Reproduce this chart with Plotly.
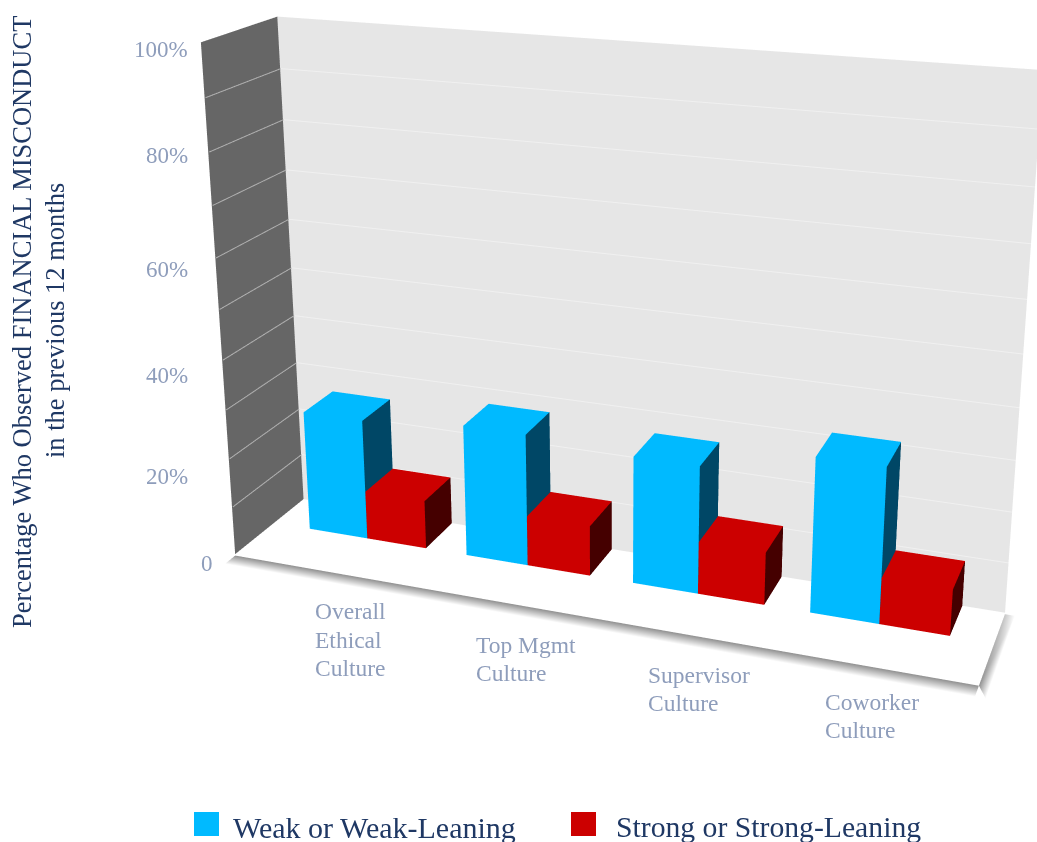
import numpy as np
import plotly.graph_objects as go

# ---- data ----
categories = [["Overall", "Ethical", "Culture"], ["Top Mgmt", "Culture"], ["Supervisor", "Culture"], ["Coworker", "Culture"]]
weak = [24.9, 26.9, 25.6, 30.6]
strong = [10.0, 10.2, 10.5, 9.1]
series_names = ["Weak or Weak-Leaning", "Strong or Strong-Leaning"]
tick_labels = ["100%", "80%", "60%", "40%", "20%", "0"]
grid_values = [10, 20, 30, 40, 50, 60, 70, 80, 90]
axis_title = ["Percentage Who Observed FINANCIAL MISCONDUCT", "in the previous 12 months"]

# ---- styling ----
BLUE, BLUE_SIDE, RED, RED_SIDE = "#00BAFF", "#004766", "#CC0000", "#450000"
TICK, TITLE = "#8E9DBB", "#1F3864"
FW, FH = 1037, 842
LIGHT = dict(ambient=1, diffuse=0, specular=0, fresnel=0, roughness=1)

# bar layout on the category axis (0..4) and the depth axis (0..1)
BAR_START, BAR_STEP, BAR_W, BAR_FRONT, BAR_BACK = 0.2242, 0.9501, 0.3550, 0.5543, 0.995
# oblique skew of the chart box, as in the pseudo-3D original
SK_XY, SK_ZY, SK_XZ, SK_ZX = 0.1630, 8.2506, -0.2117, -0.8749


def oblique(x, y, z):
    x, y, z = np.array(x, float), np.array(y, float), np.array(z, float)
    return (x + SK_XY * y + SK_XZ * z / 100).tolist(), y.tolist(), (z + SK_ZY * y + SK_ZX * x).tolist()


def quad(x, y, z, color=None, vertexcolor=None):
    X, Y, Z = oblique(x, y, z)
    kw = dict(color=color) if color else dict(vertexcolor=vertexcolor)
    return go.Mesh3d(x=X, y=Y, z=Z, i=[0, 0], j=[1, 2], k=[2, 3], lighting=LIGHT,
                     flatshading=not vertexcolor, hoverinfo="skip", **kw)


def boxes(starts, values, face, side):
    x, y, z, i, j, k, fc = [], [], [], [], [], [], []
    for x0, v in zip(starts, values):
        x1 = x0 + BAR_W
        n = len(x)
        x += [x0, x1, x1, x0, x0, x1, x1, x0]
        y += [BAR_FRONT, BAR_FRONT, BAR_BACK, BAR_BACK] * 2
        z += [0, 0, 0, 0, v, v, v, v]
        for a, b, d, col in [(0, 1, 5, face), (0, 5, 4, face), (4, 5, 6, face), (4, 6, 7, face), (1, 2, 6, side), (1, 6, 5, side)]:
            i.append(n + a); j.append(n + b); k.append(n + d); fc.append(col)
    X, Y, Z = oblique(x, y, z)
    return go.Mesh3d(x=X, y=Y, z=Z, i=i, j=j, k=k, facecolor=fc, flatshading=True, lighting=LIGHT, hoverinfo="skip")


def grid(xa, xb, ya, yb, color):
    gx, gy, gz = [], [], []
    for t in grid_values:
        X, Y, Z = oblique([xa, xb], [ya, yb], [t, t])
        gx += X + [None]; gy += Y + [None]; gz += Z + [None]
    return go.Scatter3d(x=gx, y=gy, z=gz, mode="lines", line=dict(color=color, width=2), hoverinfo="skip")


fig = go.Figure()
fig.add_trace(quad([0, 4, 4, 0], [1, 1, 1, 1], [0, 0, 100, 100], "#E6E6E6"))
fig.add_trace(quad([0, 0, 0, 0], [0, 1, 1, 0], [0, 0, 100, 100], "#666666"))
fig.add_trace(quad([0, 4, 4, 0], [0, 0, 1, 1], [0, 0, 0, 0], "#FFFFFF"))
fig.add_trace(quad([0, 4, 4, 0], [0, 0, -.14, -.14], [-.3] * 4, vertexcolor=["#909090", "#909090", "#FFFFFF", "#FFFFFF"]))
fig.add_trace(quad([4, 4, 4.05, 4.05], [0, 1, 1, -.14], [-.3] * 4, vertexcolor=["#909090", "#C8C8C8", "#FFFFFF", "#FFFFFF"]))
fig.add_trace(grid(0, 4, .998, .998, "#F0F0F0"))
fig.add_trace(grid(.005, .005, 0, 1, "#B0B0B0"))
starts = [BAR_START + n * BAR_STEP for n in range(len(weak))]
fig.add_trace(boxes(starts, weak, BLUE, BLUE_SIDE))
fig.add_trace(boxes([a + BAR_W for a in starts], strong, RED, RED_SIDE))

fig.update_layout(
    width=FW, height=FH, margin=dict(l=0, r=0, t=0, b=0), showlegend=False, paper_bgcolor="white",
    font=dict(family="Liberation Serif"),
    scene=dict(
        domain=dict(x=[195 / FW, 1], y=[0, 1]),
        xaxis=dict(visible=False, range=[-1, 5]),
        yaxis=dict(visible=False, range=[-.2, 1.2]),
        zaxis=dict(visible=False, range=[-100, 200]),
        aspectmode="manual",
        aspectratio=dict(x=1.4729 * 1.5, y=0.1686 * 1.4, z=3),
        camera=dict(eye=dict(x=0.3818, y=-1.8973, z=0.2222),
                    center=dict(x=0.0207, y=0, z=-0.1484),
                    up=dict(x=-0.1119, y=0.1700, z=0.9791)),
    ),
)


def text(t, px, py, size, color, anchor="left", angle=0):
    fig.add_annotation(text=t, x=px / FW, y=1 - py / FH, xref="paper", yref="paper", showarrow=False,
                       xanchor=anchor, yanchor="middle", textangle=angle, font=dict(size=size, color=color))


for t, y in zip(tick_labels[:5], [50, 155, 270, 375, 476]):
    text(t, 190, y, 23, TICK, "right")
text(tick_labels[5], 215, 563, 23, TICK, "right")
for lines, xx, ys in zip(categories, [313, 474, 646, 823], [[611, 640, 668], [645, 673], [675, 703], [702, 730]]):
    for line, y in zip(lines, ys):
        text(line, xx, y, 23.5, TICK)
text(axis_title[0], 22, 322, 26.5, TITLE, "center", -90)
text(axis_title[1], 55, 321, 26.5, TITLE, "center", -90)
text(series_names[0], 231, 827, 30, TITLE)
text(series_names[1], 614, 827, 29.7, TITLE)
for xa, col in [(194, BLUE), (571, RED)]:
    fig.add_shape(type="rect", xref="paper", yref="paper", x0=xa / FW, x1=(xa + 25) / FW,
                  y0=1 - 836 / FH, y1=1 - 812 / FH, fillcolor=col, line_width=0)

fig.write_html("out.html", post_script="document.body.style.margin='0';", config=dict(displayModeBar=False))
